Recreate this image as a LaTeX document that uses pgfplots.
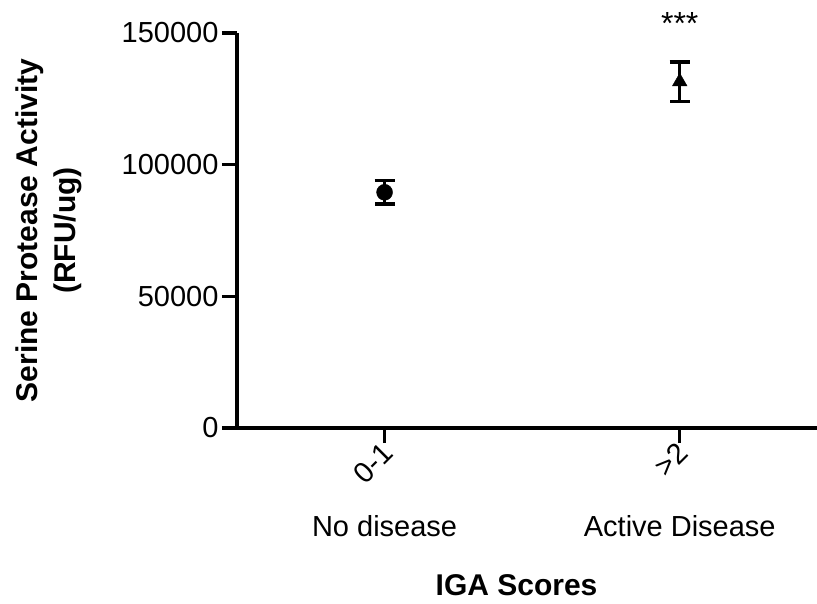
\documentclass[border=0pt]{standalone}
\usepackage{fontspec}
\setmainfont{Liberation Sans}
\usepackage{pgfplots}
\pgfplotsset{compat=1.18}
\begin{document}
\begin{tikzpicture}
\begin{axis}[
  scale only axis, width=580pt, height=395pt,
  xmin=-0.5, xmax=1.465, ymin=0, ymax=150000,
  axis x line*=bottom, axis y line*=left,
  axis line style={line width=3.5pt, black},
  clip=false,
  xtick={0,1}, xticklabels={0-1,>2},
  ytick={0,50000,100000,150000},
  scaled y ticks=false,
  /pgf/number format/assume math mode=true,
  yticklabel style={/pgf/number format/fixed, /pgf/number format/1000 sep={}, font=\fontsize{29}{30}\selectfont},
  tick style={line width=3.5pt, black},
  major tick length=15pt,
  tick align=outside,
  xticklabel style={rotate=45, anchor=east, yshift=-6pt, xshift=2pt, font=\fontsize{29}{30}\selectfont},
  xlabel={IGA Scores},
  xlabel style={at={(axis description cs:0.482,0)}, anchor=center, yshift=-157pt, font=\bfseries\fontsize{30}{34}\selectfont},
  ylabel={Serine Protease Activity\\(RFU/ug)},
  ylabel style={at={(axis description cs:-0.324,0.5)}, anchor=center, align=center, font=\bfseries\fontsize{30}{38}\selectfont},
]
\addplot[only marks, mark=*, mark size=8pt, black,
  error bars/.cd, y dir=both, y explicit,
  error bar style={line width=3.5pt, black},
  error mark options={rotate=90, mark size=10pt, line width=3.5pt, black}]
  coordinates {(0,89500) +- (0,4500)};
\addplot[only marks, mark=triangle*, mark size=8.5pt, black,
  error bars/.cd, y dir=both, y explicit,
  error bar style={line width=3.5pt, black},
  error mark options={rotate=90, mark size=10pt, line width=3.5pt, black}]
  coordinates {(1,131500) +- (0,7500)};
\node[font=\fontsize{32}{34}\selectfont] at (axis cs:1,153500) {***};
\node[font=\fontsize{29}{30}\selectfont] at (axis cs:0,0) [yshift=-98pt] {No disease};
\node[font=\fontsize{29}{30}\selectfont] at (axis cs:1,0) [yshift=-98pt] {Active Disease};
\end{axis}
\pgfresetboundingbox
\path (current axis.south west) ++(-237pt,-176pt) rectangle ++(817pt,604pt);
\end{tikzpicture}
\end{document}
